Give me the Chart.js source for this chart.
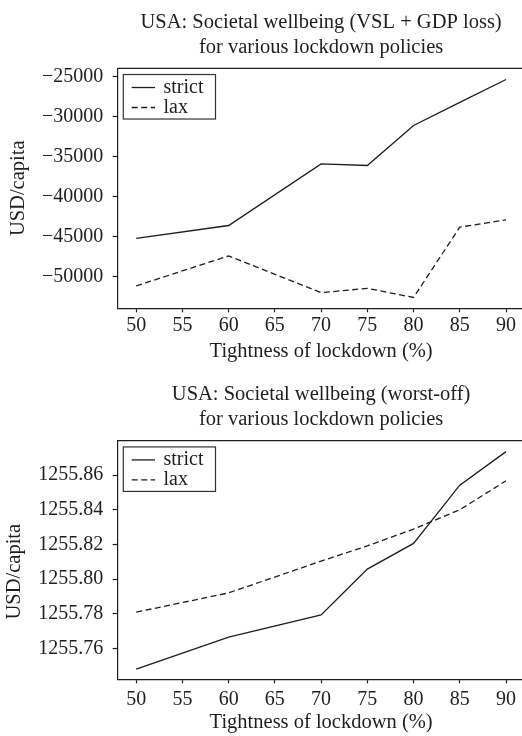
<!DOCTYPE html>
<html>
<head>
<meta charset="utf-8">
<script src="https://cdn.jsdelivr.net/npm/chart.js@4/dist/chart.umd.min.js"></script>
<style>
  html, body { margin: 0; padding: 0; background: #fff; overflow: hidden; width: 522px; height: 736px; }
  .panel { position: absolute; left: 0; width: 540px; height: 368px; }
  #p1 { top: 0; }
  #p2 { top: 368px; }
</style>
</head>
<body>
<div class="panel" id="p1"><canvas id="c1"></canvas></div>
<div class="panel" id="p2"><canvas id="c2"></canvas></div>
<script>
// Lockdown tightness levels (%) where the policies were evaluated
const tightness = [50, 60, 70, 75, 80, 85, 90];
const xTicks = [50, 55, 60, 65, 70, 75, 80, 85, 90];
const seriesNames = ['strict', 'lax'];

// Societal wellbeing, VSL + GDP loss (USD/capita)
const vslStrict = [-45200, -43600, -35900, -36100, -31100, -28200, -25350];
const vslLax = [-51150, -47400, -52000, -51450, -52600, -43800, -42900];
const vslTicks = [-50000, -45000, -40000, -35000, -30000, -25000];
const vslRange = [-53950, -23950];

// Societal wellbeing, worst-off (USD/capita)
const worstStrict = [1255.7481, 1255.7666, 1255.7794, 1255.8058, 1255.8206, 1255.8542, 1255.8735];
const worstLax = [1255.7810, 1255.7921, 1255.8104, 1255.8192, 1255.8289, 1255.8400, 1255.8567];
const worstTicks = [1255.76, 1255.78, 1255.80, 1255.82, 1255.84, 1255.86];
const worstRange = [1255.7423, 1255.8798];

const FONT = "'Liberation Serif', 'Times New Roman', serif";
const INK = '#1e1e1e';

Chart.defaults.font.family = FONT;
Chart.defaults.font.size = 20;
Chart.defaults.color = INK;

// Top/right spines and the boxed legend in the upper-left corner
const frameLegend = {
  id: 'frameLegend',
  afterDraw(chart) {
    const { ctx, chartArea: a } = chart;
    ctx.save();
    ctx.strokeStyle = INK;
    ctx.lineWidth = 1.2;
    ctx.beginPath();
    ctx.moveTo(a.left, a.top);
    ctx.lineTo(a.right, a.top);
    ctx.lineTo(a.right, a.bottom);
    ctx.stroke();

    const bx = a.left + 5.6, by = a.top + 6.2, bw = 92.2, bh = 44.5;
    ctx.fillStyle = '#fff';
    ctx.fillRect(bx, by, bw, bh);
    ctx.strokeStyle = '#333';
    ctx.lineWidth = 1.2;
    ctx.strokeRect(bx, by, bw, bh);

    chart.data.datasets.forEach((ds, i) => {
      const ly = by + 13 + 20 * i;
      ctx.strokeStyle = ds.borderColor;
      ctx.lineWidth = ds.borderWidth;
      ctx.setLineDash(ds.borderDash || []);
      ctx.beginPath();
      ctx.moveTo(bx + 8.4, ly);
      ctx.lineTo(bx + 31.7, ly);
      ctx.stroke();
      ctx.setLineDash([]);
      ctx.fillStyle = INK;
      ctx.font = '20px ' + FONT;
      ctx.textAlign = 'left';
      ctx.textBaseline = 'alphabetic';
      ctx.fillText(ds.label, bx + 40.2, by + 18.5 + 20 * i);
    });
    ctx.restore();
  }
};

// Rotated y-axis caption
const sideTitle = {
  id: 'sideTitle',
  afterDraw(chart, args, opts) {
    const { ctx } = chart;
    ctx.save();
    ctx.translate(opts.x, opts.y);
    ctx.rotate(-Math.PI / 2);
    ctx.fillStyle = INK;
    ctx.font = '20.5px ' + FONT;
    ctx.textAlign = 'center';
    ctx.textBaseline = 'middle';
    ctx.fillText(opts.text, 0, 0);
    ctx.restore();
  }
};

function toPoints(values) {
  return tightness.map((x, i) => ({ x, y: values[i] }));
}

function buildPanel(id, p) {
  return new Chart(document.getElementById(id), {
    type: 'line',
    data: {
      datasets: [
        { label: seriesNames[0], data: toPoints(p.strict), borderColor: INK, borderWidth: 1.3,
          pointRadius: 0, tension: 0, fill: false },
        { label: seriesNames[1], data: toPoints(p.lax), borderColor: INK, borderWidth: 1.3,
          borderDash: [6, 3.5], pointRadius: 0, tension: 0, fill: false }
      ]
    },
    options: {
      responsive: true,
      maintainAspectRatio: false,
      animation: false,
      devicePixelRatio: 1,
      layout: { padding: { left: 0, top: 0, bottom: 0, right: 15.5 } },
      plugins: {
        legend: { display: false },
        tooltip: { enabled: false },
        title: {
          display: true,
          fullSize: false,
          text: p.title,
          color: INK,
          font: { size: 20.5, weight: 'normal', lineHeight: 1.22 },
          padding: { top: p.titlePadTop, bottom: p.titlePadBottom }
        },
        sideTitle: { text: 'USD/capita', x: p.yTitleX, y: p.yTitleY }
      },
      scales: {
        x: {
          type: 'linear',
          min: 48,
          max: 92,
          afterBuildTicks: s => { s.ticks = xTicks.map(v => ({ value: v })); },
          afterFit: s => { s.height = p.xAxisHeight; },
          grid: { drawOnChartArea: false, drawTicks: true, tickLength: 4, tickColor: INK, tickWidth: 1.2 },
          border: { display: true, color: INK, width: 1.2 },
          ticks: { padding: p.xTickPad, color: INK, maxRotation: 0, autoSkip: false },
          title: { display: true, text: 'Tightness of lockdown (%)', color: INK,
                   font: { size: 20.5 },
                   padding: { top: 0, bottom: p.xTitlePad } }
        },
        y: {
          type: 'linear',
          min: p.range[0],
          max: p.range[1],
          afterBuildTicks: s => { s.ticks = p.ticks.map(v => ({ value: v })); },
          afterFit: s => { s.width = 117.7; },
          grid: { drawOnChartArea: false, drawTicks: true, tickLength: 5, tickColor: INK, tickWidth: 1.2 },
          border: { display: true, color: INK, width: 1.2 },
          ticks: { padding: 9.5, color: INK, autoSkip: false, callback: p.format }
        }
      }
    },
    plugins: [frameLegend, sideTitle]
  });
}

buildPanel('c1', {
  title: ['USA: Societal wellbeing (VSL + GDP loss)', 'for various lockdown policies'],
  titlePadTop: 10, titlePadBottom: 8.3,
  strict: vslStrict, lax: vslLax, ticks: vslTicks, range: vslRange,
  format: v => (v < 0 ? '\u2212' : '') + Math.abs(v),
  xAxisHeight: 59.7, xTickPad: 1.7, xTitlePad: 4.5,
  yTitleX: 19, yTitleY: 188.3
});

buildPanel('c2', {
  title: ['USA: Societal wellbeing (worst-off)', 'for various lockdown policies'],
  titlePadTop: 14.5, titlePadBottom: 8.2,
  strict: worstStrict, lax: worstLax, ticks: worstTicks, range: worstRange,
  format: v => Number(v).toFixed(2),
  xAxisHeight: 56.7, xTickPad: 4.2, xTitlePad: 1.5,
  yTitleX: 14.2, yTitleY: 203.7
});
</script>
</body>
</html>
